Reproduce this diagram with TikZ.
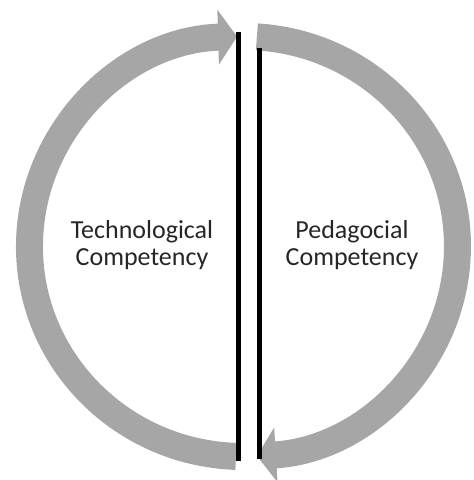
\documentclass[tikz,border=0pt]{standalone}
\usepackage{fontspec}
\setmainfont{Carlito}
\usetikzlibrary{arrows.meta}
\definecolor{cyclegray}{HTML}{A6A6A6}
\definecolor{labeltext}{HTML}{262626}
\begin{document}
\begin{tikzpicture}[x=1pt,y=1pt,
  cycle/.style={draw=cyclegray, line width=27pt, line cap=butt,
    -{Triangle[length=19pt,width=54pt]}},
  divider/.style={draw=black, line width=5pt},
  label/.style={font=\fontsize{26}{27}\selectfont, align=center, text=labeltext}]
\useasboundingbox (0,0) rectangle (474,480);
% half-ring arrows around a common centre
\draw[cycle] (236,23.6) arc[start angle=268, end angle=91.7, x radius=214, y radius=210];
\draw[cycle] (256.9,443.1) arc[start angle=86.4, end angle=-86.4, x radius=214, y radius=210];
% the two dividing bars
\coordinate (lt) at (238,448);
\coordinate (lb) at (238,19);
\coordinate (rt) at (259,432);
\coordinate (rb) at (259,21);
\draw[divider] (lt) -- (lb);
\draw[divider] (rt) -- (rb);
% labels
\node[label] (tech) at (142,235) {Technological\\Competency};
\node[label] (ped) at (352,235) {Pedagocial\\Competency};
\end{tikzpicture}
\end{document}
